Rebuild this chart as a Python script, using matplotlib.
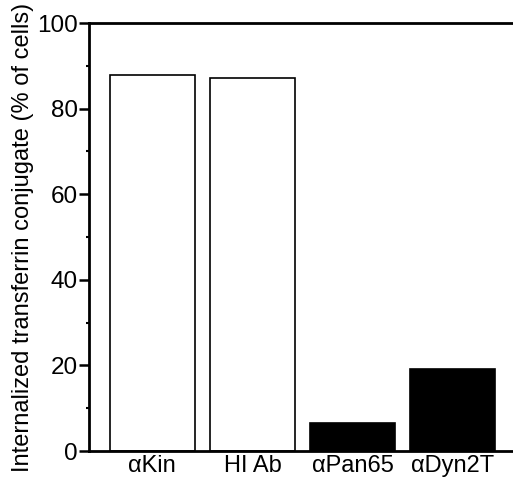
import matplotlib
matplotlib.use("Agg")
import matplotlib.pyplot as plt
from matplotlib.ticker import MultipleLocator

plt.rcParams["font.family"] = ["Liberation Sans", "DejaVu Sans"]

categories = ["\u03b1Kin", "HI Ab", "\u03b1Pan65", "\u03b1Dyn2T"]
values = [87.8, 87.1, 6.6, 19.2]
fills = ["white", "white", "black", "black"]


def main() -> None:
    fig = plt.figure(figsize=(5.13, 4.80), dpi=100)
    ax = fig.add_axes([0.1735, 0.0604, 0.8265, 0.8916])

    x = list(range(len(categories)))
    ax.bar(x, values, width=0.85, color=fills, edgecolor="black", linewidth=1.2)

    ax.set_xlim(-0.63, 3.6)
    ax.set_ylim(0, 100)
    ax.set_xticks(x)
    ax.set_xticklabels(categories, fontsize=17)
    ax.yaxis.set_major_locator(MultipleLocator(20))
    ax.yaxis.set_minor_locator(MultipleLocator(10))
    ax.tick_params(axis="y", which="major", direction="out", length=7,
                   width=1.8, labelsize=17.5, pad=1)
    ax.tick_params(axis="y", which="minor", direction="out", length=2,
                   width=1.5)
    ax.tick_params(axis="x", length=0, pad=3)

    ax.spines["right"].set_visible(False)
    for side in ("left", "top", "bottom"):
        ax.spines[side].set_linewidth(2)

    ax.set_ylabel("Internalized transferrin conjugate (% of cells)",
                  fontsize=17, labelpad=2)

    fig.savefig("out.png", dpi=100)
    plt.close(fig)


if __name__ == "__main__":
    main()
